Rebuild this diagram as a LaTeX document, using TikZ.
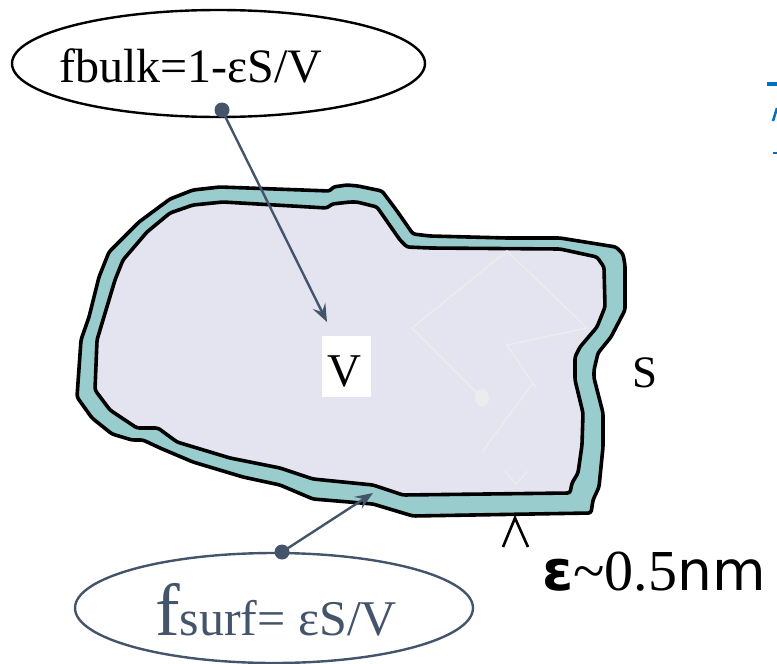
\documentclass[tikz,border=0pt]{standalone}
\usepackage{fontspec}
\setmainfont{Liberation Serif}
\newfontfamily\djv{DejaVu Sans}
\usetikzlibrary{shapes.geometric,arrows.meta}
\definecolor{slate}{HTML}{44546A}
\definecolor{shell}{HTML}{99CCCC}
\definecolor{core}{HTML}{E4E4F0}
\definecolor{faint}{HTML}{ECECEE}
\definecolor{pblue}{HTML}{0070C0}
\tikzset{
  outline/.style={draw=black,line width=3.6pt,line join=round,rounded corners=2.5pt},
  pointer/.style={draw=slate,line width=2.4pt,-{Stealth[length=18pt,width=14pt,inset=7pt]}},
  dotmark/.style={fill=slate,draw=none},
  lbl/.style={inner sep=0pt,anchor=base west},
  ghost/.style={draw=faint,line width=1.5pt}
}
\begin{document}
\begin{tikzpicture}[x=1pt,y=-1pt]
\useasboundingbox (0,0) rectangle (777,664);
% shell (surface layer)
\path[outline,fill=shell] (170,199) -- (193,190) -- (220,187) -- (330,191) -- (333,187) -- (347,185) -- (358,186) -- (382,191) -- (397,211) -- (413,234) -- (430,236) -- (507,238) -- (560,238) -- (616,247) -- (623,254) -- (625,265) -- (625,310) -- (611,337) -- (598,353) -- (594,370) -- (594,378) -- (603,413) -- (603,447) -- (599,487) -- (593,500) -- (591,513) -- (413,516) -- (373,504) -- (313,499) -- (280,485) -- (243,477) -- (193,462) -- (160,448) -- (143,440) -- (132,440) -- (112,434) -- (92,418) -- (77,397) -- (81,340) -- (89,317) -- (99,277) -- (109,252) -- (139,222) -- cycle;
% core (bulk)
\path[outline,fill=core] (193,205) -- (223,202) -- (327,208) -- (332,204) -- (350,202) -- (357,202) -- (377,207) -- (400,240) -- (407,247) -- (430,248) -- (560,249) -- (597,257) -- (604,267) -- (605,307) -- (597,327) -- (580,347) -- (575,357) -- (575,380) -- (583,413) -- (582,445) -- (578,473) -- (572,483) -- (570,493) -- (403,495) -- (373,485) -- (313,479) -- (280,468) -- (230,458) -- (177,442) -- (158,428) -- (137,428) -- (110,410) -- (95,390) -- (97,340) -- (103,320) -- (115,280) -- (123,260) -- (147,232) -- (170,213) -- cycle;
% faint background marks
\draw[ghost] (482,398) -- (412,328) -- (507,251) -- (587,328) -- (507,345) -- (536,388);
\draw[ghost] (533,383) -- (482,452);
\draw[ghost] (505,471) -- (516,484) -- (528,471);
\fill[faint] (482,398) ellipse (7 and 9);
% top ellipse
\node[ellipse,draw=black,line width=2.4pt,minimum width=413pt,minimum height=107pt,inner sep=0pt] (bulk) at (218.5,63.5) {};
\node[lbl,font=\fontsize{48}{52}\selectfont] (bulktext) at (59,82) {fbulk=1-εS/V};
% bottom ellipse
\node[ellipse,draw=slate,line width=2.4pt,minimum width=398pt,minimum height=110pt,inner sep=0pt] (surf) at (274,608) {};
\node[lbl,text=slate] (surftext) at (155,635) {\fontsize{74}{78}\selectfont f\fontsize{50}{52}\selectfont surf= εS/V};
% V label
\node[fill=white,minimum width=49pt,minimum height=61pt,inner sep=0pt] (vbox) at (346.5,366.5) {};
\node[lbl,font=\fontsize{47}{50}\selectfont] (vlab) at (327,386) {V};
% S label
\node[lbl,font=\fontsize{45}{48}\selectfont] (slab) at (632,387) {S};
% epsilon label
\node[lbl] (epslab) at (542,590) {{\djv\bfseries\fontsize{56}{60}\selectfont ε}{\fontsize{58}{60}\selectfont \char`\~0.5}{\djv\fontsize{55}{58}\selectfont nm}};
% caret
\coordinate (c1) at (503,547);
\coordinate (c2) at (515,518);
\coordinate (c3) at (528,547);
\draw[line width=2.6pt] (c1) -- (c2) -- (c3);
% pointers
\coordinate (bulkdot) at (222,110);
\coordinate (bulktip) at (327,322);
\coordinate (surfdot) at (282,552);
\coordinate (surftip) at (373,493);
\draw[pointer] (bulkdot) -- (bulktip);
\fill[dotmark] (bulkdot) circle (7.5);
\draw[pointer] (surfdot) -- (surftip);
\fill[dotmark] (surfdot) circle (7.5);
% clipped blue fragment at the right edge
\fill[pblue] (767,82) rectangle (777,86);
\draw[pblue,line width=2.5pt] (777,108) -- (773,121);
\draw[pblue,line width=1.5pt] (773,153) -- (777,153);
\end{tikzpicture}
\end{document}
